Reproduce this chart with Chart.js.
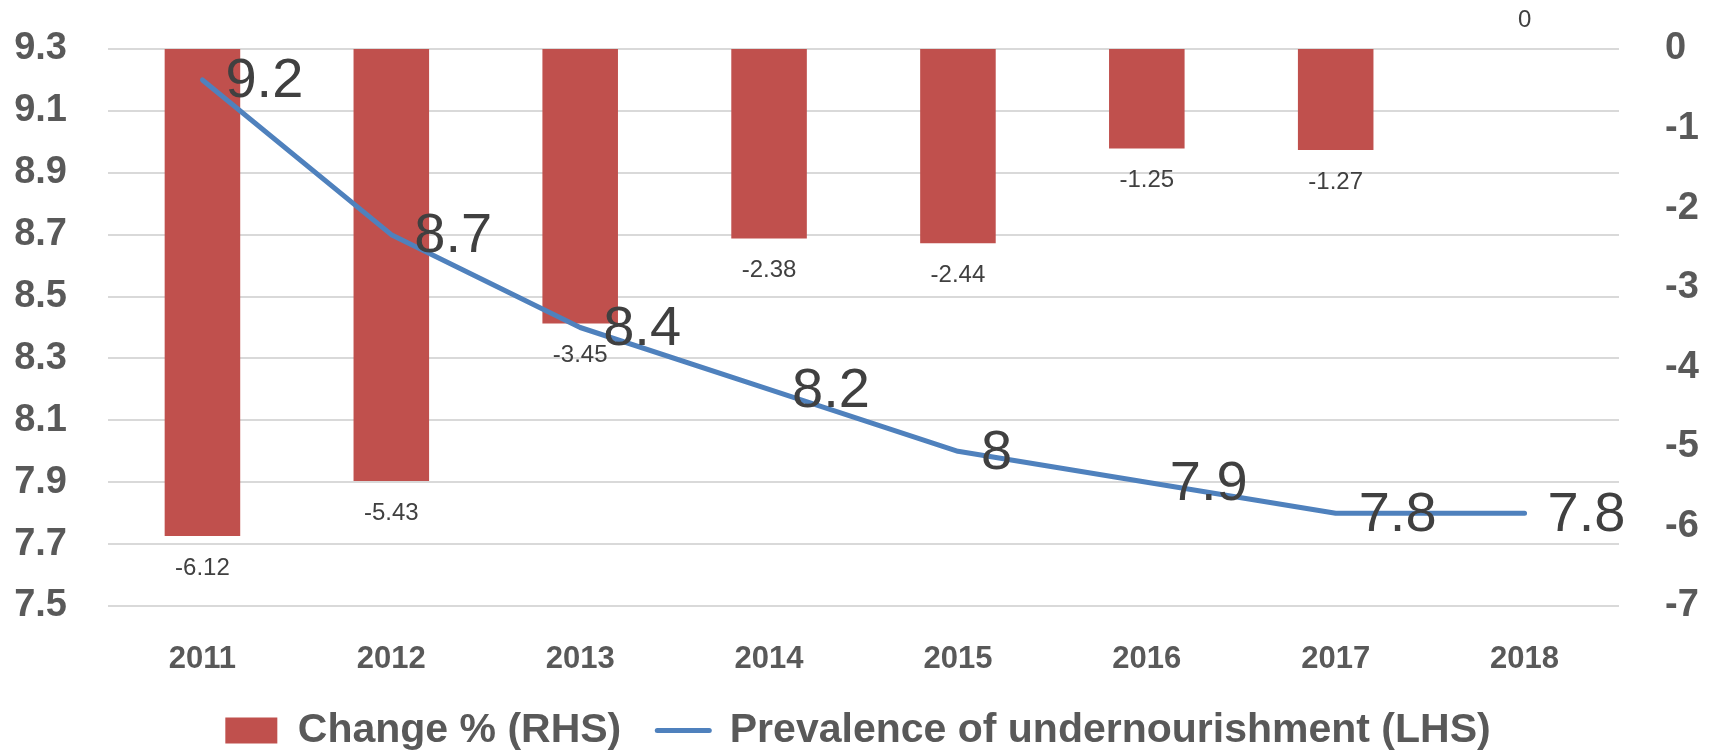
<!DOCTYPE html>
<html>
<head>
<meta charset="utf-8">
<title>Prevalence of undernourishment</title>
<script src="https://cdn.jsdelivr.net/npm/chart.js@4.4.1/dist/chart.umd.min.js"></script>
<style>
  html, body { margin: 0; padding: 0; background: #fff; }
  #wrap { width: 1716px; height: 752px; position: relative; }
</style>
</head>
<body>
<div id="wrap"><canvas id="chart"></canvas></div>
<script>
// --- data ---
const years = ['2011', '2012', '2013', '2014', '2015', '2016', '2017', '2018'];
const changePct = [-6.12, -5.43, -3.45, -2.38, -2.44, -1.25, -1.27, 0];
const prevalence = [9.2, 8.7, 8.4, 8.2, 8, 7.9, 7.8, 7.8];
const leftTicks = [7.5, 7.7, 7.9, 8.1, 8.3, 8.5, 8.7, 8.9, 9.1, 9.3];
const rightTicks = [-7, -6, -5, -4, -3, -2, -1, 0];

const BAR_RED = '#C0504D';
const LINE_BLUE = '#4F81BD';
const AXIS_GREY = '#595959';
const LABEL_GREY = '#404040';
const FONT = '"Liberation Sans", Arial, sans-serif';

// value labels (no datalabels plugin offline, so draw them here)
const valueLabels = {
    id: 'valueLabels',
    afterDatasetsDraw(chart) {
        const ctx = chart.ctx;
        ctx.save();
        ctx.fillStyle = LABEL_GREY;
        ctx.textBaseline = 'middle';

        // bar labels: below the bar end for negatives, above for zero
        ctx.font = '24px ' + FONT;
        ctx.textAlign = 'center';
        chart.getDatasetMeta(0).data.forEach((bar, i) => {
            const v = changePct[i];
            const y = v < 0 ? bar.y + 32 : bar.y - 29;
            ctx.fillText(String(v), bar.x, y);
        });

        // line labels: right of each point
        ctx.font = '56px ' + FONT;
        ctx.textAlign = 'left';
        chart.getDatasetMeta(1).data.forEach((pt, i) => {
            ctx.fillText(String(prevalence[i]), pt.x + 23, pt.y + 2);
        });
        ctx.restore();
    }
};

// fixed axis widths, and no extra label padding pushing the plot area
const fixY = w => s => { s.width = w; s.paddingTop = 0; s.paddingBottom = 0; };

const ctx = document.getElementById('chart').getContext('2d');
const chart = new Chart(ctx, {
    type: 'bar',
    data: {
        labels: years,
        datasets: [
            {
                type: 'bar',
                label: 'Change % (RHS)',
                data: changePct,
                yAxisID: 'y1',
                backgroundColor: BAR_RED,
                barPercentage: 0.4,
                categoryPercentage: 1,
                order: 1
            },
            {
                type: 'line',
                label: 'Prevalence of undernourishment (LHS)',
                data: prevalence,
                yAxisID: 'y',
                borderColor: LINE_BLUE,
                backgroundColor: LINE_BLUE,
                borderWidth: 5,
                borderCapStyle: 'round',
                borderJoinStyle: 'round',
                pointRadius: 0,
                tension: 0,
                order: 0
            }
        ]
    },
    options: {
        responsive: true,
        maintainAspectRatio: false,
        animation: false,
        layout: { padding: { top: 49, left: 0, right: 0, bottom: -9 } },
        plugins: {
            tooltip: { enabled: false },
            legend: {
                position: 'bottom',
                labels: {
                    usePointStyle: true,
                    pointStyleWidth: 52,
                    boxHeight: 26,
                    padding: 36,
                    color: AXIS_GREY,
                    font: { family: FONT, size: 41, weight: 'bold' },
                    generateLabels(c) {
                        const items = Chart.defaults.plugins.legend.labels.generateLabels(c);
                        items.forEach(it => {
                            if (it.datasetIndex === 0) {
                                it.pointStyle = 'rect';
                                it.lineWidth = 0;
                            } else {
                                it.pointStyle = 'line';
                                it.lineWidth = 5;
                                it.lineCap = 'round';
                                it.strokeStyle = LINE_BLUE;
                            }
                        });
                        return items.sort((a, b) => a.datasetIndex - b.datasetIndex);
                    }
                }
            }
        },
        scales: {
            x: {
                grid: { display: false, drawTicks: false },
                border: { display: false },
                ticks: {
                    color: AXIS_GREY,
                    padding: 35,
                    font: { family: FONT, size: 31, weight: 'bold' }
                },
                afterFit: s => { s.height = 68; }
            },
            y: {
                position: 'left',
                min: 7.5,
                max: 9.3,
                afterBuildTicks: s => { s.ticks = leftTicks.map(v => ({ value: v })); },
                grid: { color: '#D9D9D9', lineWidth: 2, drawTicks: false },
                border: { display: false },
                ticks: {
                    color: AXIS_GREY,
                    padding: 41,
                    font: { family: FONT, size: 38, weight: 'bold' },
                    callback: v => v.toFixed(1)
                },
                afterFit: fixY(108)
            },
            y1: {
                position: 'right',
                min: -7,
                max: 0,
                afterBuildTicks: s => { s.ticks = rightTicks.map(v => ({ value: v })); },
                grid: { display: false, drawTicks: false },
                border: { display: false },
                ticks: {
                    color: AXIS_GREY,
                    padding: 46,
                    font: { family: FONT, size: 38, weight: 'bold' },
                    callback: v => String(v)
                },
                afterFit: fixY(97)
            }
        }
    },
    plugins: [valueLabels]
});
</script>
</body>
</html>
